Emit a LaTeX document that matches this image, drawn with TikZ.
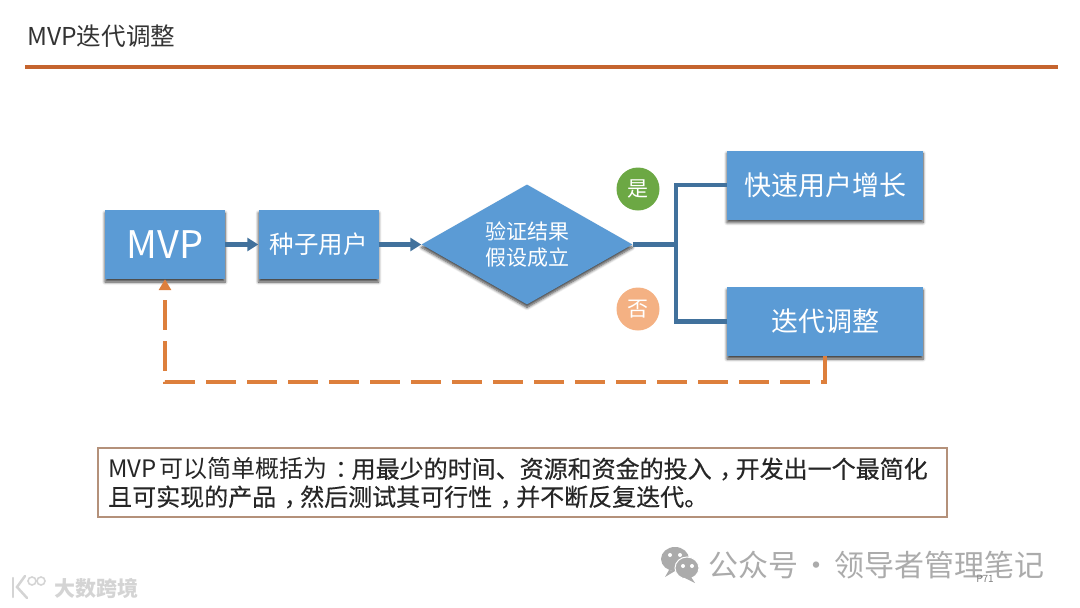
\documentclass[tikz,border=0pt]{standalone}
\usepackage{fontspec}
\setmainfont{Noto Sans CJK SC}
\newfontfamily\strongfont[FakeBold=0.35]{Noto Sans CJK SC}
\usetikzlibrary{arrows.meta,calc,shapes.geometric,shadows.blur}
\definecolor{boxblue}{HTML}{5B9BD5}
\definecolor{lineblue}{HTML}{41719C}
\definecolor{rulered}{HTML}{C5642E}
\definecolor{dashorange}{HTML}{DD7F3C}
\definecolor{yesgreen}{HTML}{6CA844}
\definecolor{nopeach}{HTML}{F4B183}
\definecolor{notebrown}{HTML}{B4917A}
\definecolor{markgray}{HTML}{ABABAB}
\definecolor{brandgray}{HTML}{D4D4D4}
\newcommand{\midmark}[1]{\hspace{.32em}#1\hspace{-.32em}}
\tikzset{boxshadow/.style={blur shadow={shadow xshift=0pt,shadow yshift=-3pt,shadow blur radius=3pt,shadow blur steps=6,shadow blur extra rounding=0pt,shadow opacity=75}},
         stepbox/.style={fill=boxblue,boxshadow,text=white,minimum height=69pt,inner sep=0pt},
         flow/.style={-{Triangle[length=11pt,width=13pt]},line width=4.2pt,lineblue},
         branch/.style={line width=4.2pt,lineblue},
         back/.style={-{Triangle[length=11pt,width=12pt]},line width=4pt,dashorange,dash pattern=on 30pt off 11pt},
         tagdot/.style={circle,minimum size=43pt,inner sep=0pt,text=white,font=\fontsize{21}{21}\selectfont}}

\begin{document}
\begin{tikzpicture}[x=1pt,y=-1pt]
  \useasboundingbox (0,0) rectangle (1080,608);
  \node[anchor=west,font=\fontsize{24.6}{25}\selectfont,text=black!80,inner sep=0pt] (title) at (27,36) {MVP迭代调整};
  \coordinate (ruleleft) at (25,67); \coordinate (ruleright) at (1058,67);
  \draw[line width=4.5pt,rulered] (ruleleft)--(ruleright);

  \node[stepbox,minimum width=120pt,font=\fontsize{38}{38}\selectfont] (mvp) at (165,244.5) {MVP};
  \node[stepbox,minimum width=120pt,font=\fontsize{24.5}{25}\selectfont] (seed) at (318.5,244.5) {种子用户};
  \node[diamond,fill=boxblue,boxshadow,text=white,minimum width=211pt,minimum height=120pt,inner sep=0pt,
    aspect=1.76,align=center,font=\fontsize{21}{26}\selectfont] (check) at (527,244.5) {验证结果\\假设成立};
  \node[stepbox,minimum width=196pt,font=\fontsize{27}{27}\selectfont] (grow) at (825,185) {快速用户增长};
  \node[stepbox,minimum width=196pt,font=\fontsize{27}{27}\selectfont] (iter) at (825,321.5) {迭代调整};
  \node[tagdot,fill=yesgreen] (yes) at (638,189) {是};
  \node[tagdot,fill=nopeach] (no) at (638,309) {否};

  \draw[flow] (mvp.east)--(seed.west);
  \draw[flow] (seed.east)--(check.west);
  \coordinate (fork) at (676,244.5);
  \draw[branch] (check.east)--(fork);
  \draw[branch] (grow.west)-|(fork)|-(iter.west);
  \coordinate (turn) at (165,382);
  \draw[back] (iter.south)|-(turn)--(mvp.south);

  \node[draw=notebrown,line width=1.3pt,fill=white,minimum width=849pt,minimum height=69pt,inner sep=0pt] (note) at (522.5,482.5) {};
  \node[anchor=west,inner sep=0pt,font=\fontsize{24}{24}\selectfont,text=black!85] (noteone) at (108,469)
    {MVP\hspace{3pt}可以简单概括为\midmark{：}{\strongfont 用最少的时间、资源和资金的投入\midmark{，}开发出一个最简化}};
  \node[anchor=west,inner sep=0pt,font=\fontsize{24}{24}\selectfont\strongfont,text=black!85] (notetwo) at (108,497)
    {且可实现的产品\midmark{，}然后测试其可行性\midmark{，}并不断反复迭代。};

  % watermarks
  \fill[markgray] (675,559) ellipse (14pt and 12pt);
  \fill[markgray] (669,570)--(665,577)--(675,571)--cycle;
  \fill[markgray,draw=white,line width=1pt] (687,568) ellipse (12pt and 11pt);
  \fill[markgray] (691,577)--(695,583)--(685,578)--cycle;
  \foreach \eyex/\eyey in {670/555,680/555,683/566,692/566}
    \fill[white] (\eyex,\eyey) circle (2pt);
  \node[anchor=west,inner sep=0pt,text=markgray,font=\fontsize{30}{30}\selectfont] (mark) at (708,565) {公众号\hspace{-3pt} · \hspace{-4pt}领导者管理笔记};
  \node[inner sep=0pt,text=black!50,font=\fontsize{10}{10}\selectfont] (page) at (985,579) {P71};
  \draw[brandgray,line width=2.5pt,line cap=round] (13,578)--(13,597);
  \draw[brandgray,line width=2.5pt,line cap=round] (25,576)--(17,587)--(27,598);
  \foreach \ringx in {32,41}
    \draw[brandgray,line width=1.6pt] (\ringx,581) circle (4pt);
  \node[anchor=west,inner sep=0pt,text=brandgray,font=\fontsize{21}{21}\selectfont\bfseries] (brand) at (54,588) {大数跨境};
\end{tikzpicture}
\end{document}
